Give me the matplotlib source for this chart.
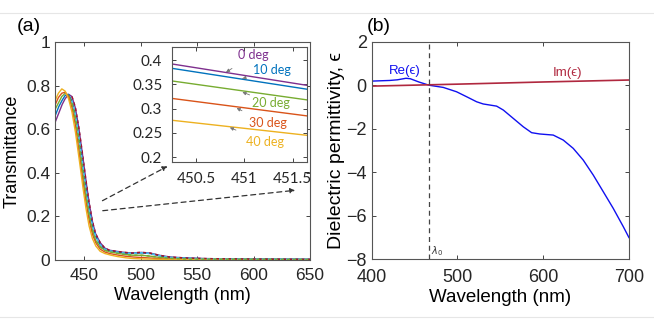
import matplotlib
matplotlib.use("Agg")
import matplotlib.pyplot as plt
import numpy as np

plt.rcParams['font.family'] = ['Liberation Sans', 'DejaVu Sans']

# ---- panel (a): transmittance vs wavelength for several angles ----
wl = [424, 427, 430, 433, 436, 439, 442, 445, 448, 451, 454, 457, 460, 464,
      468, 472, 478, 485, 492, 500, 508, 516, 525, 540, 560, 600, 650]
angles = ['0 deg', '10 deg', '20 deg', '30 deg', '40 deg']
t0 = [0.63, 0.67, 0.71, 0.74, 0.76, 0.75, 0.70, 0.61, 0.50, 0.38, 0.27, 0.18, 0.12, 0.08,
      0.055, 0.045, 0.04, 0.035, 0.032, 0.035, 0.032, 0.022, 0.014, 0.009, 0.006, 0.004, 0.003]
t10 = [0.66, 0.70, 0.73, 0.755, 0.76, 0.73, 0.67, 0.57, 0.46, 0.34, 0.24, 0.16, 0.11, 0.07,
       0.05, 0.042, 0.037, 0.032, 0.030, 0.033, 0.030, 0.020, 0.012, 0.008, 0.005, 0.004, 0.003]
t20 = [0.69, 0.72, 0.75, 0.765, 0.755, 0.72, 0.65, 0.55, 0.43, 0.31, 0.21, 0.14, 0.09, 0.06,
       0.045, 0.038, 0.032, 0.026, 0.022, 0.022, 0.018, 0.012, 0.008, 0.005, 0.004, 0.003, 0.002]
t30 = [0.71, 0.745, 0.765, 0.77, 0.75, 0.70, 0.62, 0.51, 0.39, 0.28, 0.19, 0.12, 0.08, 0.05,
       0.037, 0.03, 0.024, 0.018, 0.014, 0.012, 0.009, 0.006, 0.004, 0.003, 0.002, 0.002, 0.001]
t40 = [0.73, 0.765, 0.785, 0.775, 0.74, 0.68, 0.59, 0.48, 0.36, 0.25, 0.16, 0.10, 0.065, 0.04,
       0.03, 0.024, 0.017, 0.011, 0.007, 0.005, 0.004, 0.003, 0.002, 0.002, 0.001, 0.001, 0.001]
colors = ['#7E2F8E', '#0072BD', '#77AC30', '#D95319', '#EDB120']

# inset: zoom around 451 nm
inset_wl = [450.25, 451.65]
inset_t = [[0.392, 0.348], [0.383, 0.340], [0.357, 0.318], [0.321, 0.285], [0.276, 0.245]]
label_xy = [(451.09, 0.410), (451.29, 0.379), (451.28, 0.311), (451.24, 0.270), (451.21, 0.231)]
tip_xy = [(450.81, 0.375), (450.98, 0.362), (450.98, 0.334), (450.92, 0.301), (450.85, 0.261)]

# ---- panel (b): dielectric permittivity ----
wl_b = [400, 421, 430, 440, 445, 455, 467, 483.5, 499, 510.8, 522.4, 530, 545.7, 553.5,
        565, 576.8, 586.5, 596, 611.7, 623.4, 635, 646.7, 658.4, 670, 681.7, 693.4, 700]
re_eps = [0.19, 0.22, 0.25, 0.32, 0.30, 0.15, 0.0, -0.10, -0.30, -0.53, -0.76, -0.86, -0.96,
          -1.14, -1.52, -1.91, -2.18, -2.24, -2.29, -2.52, -2.90, -3.44, -4.13, -4.89,
          -5.66, -6.50, -7.00]
im_x = [400, 500, 600, 700]
im_eps = [-0.04, 0.05, 0.15, 0.24]
lambda0 = 467

fig = plt.figure(figsize=(6.54, 3.27), dpi=100)

ax_col = '#262626'

def style(ax, size, pad=3.5):
    ax.tick_params(direction='in', top=True, right=True, labelsize=size,
                   colors=ax_col, length=3, width=0.6, pad=pad)
    for s in ax.spines.values():
        s.set_color('#555555')
        s.set_linewidth(0.8)

# (a)
ax1 = fig.add_axes([0.0841, 0.2049, 0.390, 0.6667])
for t, c in zip([t0, t10, t20, t30, t40], colors):
    xs = np.linspace(wl[0], wl[-1], 600)
    ax1.plot(xs, np.interp(xs, wl, t), color=c, lw=1.0)
for t, c in zip([t0, t10, t20], ['#A2142F', '#4DBEEE', '#77AC30']):
    ax1.plot(wl[5:], t[5:], color=c, lw=1.1, ls='--', dashes=(2, 2))
ax1.set_xlim(424, 650)
ax1.set_ylim(0, 1)
ax1.set_xticks([450, 500, 550, 600, 650])
ax1.set_yticks([0, 0.2, 0.4, 0.6, 0.8, 1])
ax1.set_yticklabels(['0', '0.2', '0.4', '0.6', '0.8', '1'])
style(ax1, 12.5)
ax1.tick_params(axis='x', pad=6)
ax1.set_xlabel('Wavelength (nm)', fontsize=13, labelpad=3)
ax1.set_ylabel('Transmittance', fontsize=13, labelpad=4)
fig.text(0.026, 0.905, '(a)', fontsize=14)

# inset
axi = fig.add_axes([0.263, 0.5046, 0.2064, 0.3517])
for v, c in zip(inset_t, colors):
    axi.plot(inset_wl, v, color=c, lw=1.0)
for name, c, lxy, txy in zip(angles, colors, label_xy, tip_xy):
    axi.annotate(name, xy=txy, xytext=lxy, color=c, fontsize=9,
                 ha='center', va='center', family=['Lato', 'DejaVu Sans'],
                 arrowprops=dict(arrowstyle='-|>', color='#777777', lw=0.6,
                                 mutation_scale=5, shrinkA=6, shrinkB=0))
axi.set_xlim(450.25, 451.65)
axi.set_ylim(0.19, 0.427)
axi.set_xticks([450.5, 451, 451.5])
axi.set_xticklabels(['450.5', '451', '451.5'], family=['Lato', 'DejaVu Sans'])
axi.set_yticks([0.2, 0.25, 0.3, 0.35, 0.4])
axi.set_yticklabels(['0.2', '0.25', '0.3', '0.35', '0.4'], family=['Lato', 'DejaVu Sans'])
style(axi, 11, pad=7)

# dashed arrows from curve region to the inset
fig.add_artist(matplotlib.patches.FancyArrowPatch(
    (100 / 654, 1 - 202 / 327), (170 / 654, 1 - 165 / 327), transform=fig.transFigure,
    arrowstyle='-|>', mutation_scale=7, color='#333333', lw=0.9, linestyle=(0, (4, 3))))
fig.add_artist(matplotlib.patches.FancyArrowPatch(
    (100 / 654, 1 - 211 / 327), (298 / 654, 1 - 190 / 327), transform=fig.transFigure,
    arrowstyle='-|>', mutation_scale=7, color='#333333', lw=0.9, linestyle=(0, (4, 3))))

# (b)
ax2 = fig.add_axes([0.5683, 0.207, 0.3934, 0.6654])
ax2.plot(wl_b, re_eps, color='#1010F0', lw=1.0)
ax2.plot(im_x, im_eps, color='#B0283F', lw=1.2)
ax2.axvline(lambda0, color='#444444', lw=0.9, ls='--', dashes=(4, 3))
ax2.text(438, 0.5, 'Re(ϵ)', color='#1010F0', fontsize=9.5, ha='center')
ax2.text(628, 0.42, 'Im(ϵ)', color='#B0283F', fontsize=9.5, ha='center')
ax2.text(lambda0 + 2, -7.75, r'$\lambda_0$', fontsize=7, color='#333333')
ax2.set_xlim(400, 700)
ax2.set_ylim(-8, 2)
ax2.set_xticks([400, 500, 600, 700])
ax2.set_yticks([-8, -6, -4, -2, 0, 2])
style(ax2, 13)
ax2.tick_params(axis='x', pad=7)
ax2.set_xlabel('Wavelength (nm)', fontsize=13.5, labelpad=2)
ax2.set_ylabel('Dielectric permittivity, ϵ', fontsize=14, labelpad=1)
fig.text(0.561, 0.905, '(b)', fontsize=14)

# faint separator lines of the original layout
fig.add_artist(matplotlib.lines.Line2D([0, 1], [1 - 13 / 327, 1 - 13 / 327], color='#e6e6e6', lw=0.8))
fig.add_artist(matplotlib.lines.Line2D([0, 1], [1 - 317 / 327, 1 - 317 / 327], color='#e6e6e6', lw=0.8))

fig.savefig('out.png', dpi=100)
